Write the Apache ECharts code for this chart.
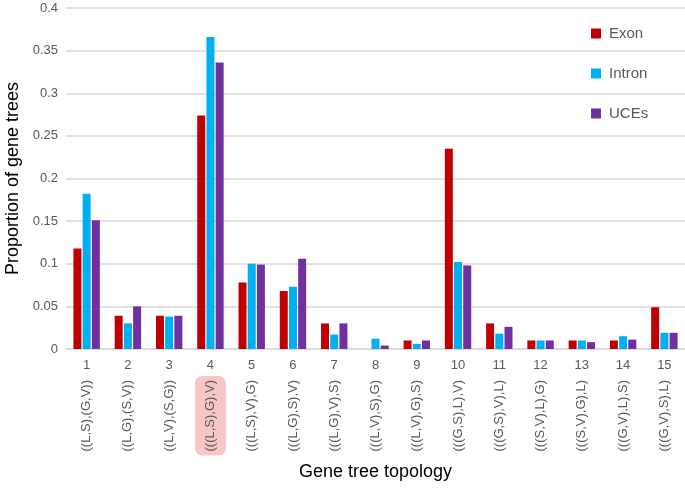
<!DOCTYPE html>
<html><head><meta charset="utf-8">
<script src="https://cdn.jsdelivr.net/npm/echarts@6/dist/echarts.min.js"></script>
<style>html,body{margin:0;padding:0;background:#fff}#c{width:685px;height:488px}</style>
</head><body><div id="c"></div>
<script>
const numbers = ['1','2','3','4','5','6','7','8','9','10','11','12','13','14','15'];
const topologies = ['((L,S),(G,V))','((L,G),(S,V))','((L,V),(S,G))','(((L,S),G),V)','(((L,S),V),G)','(((L,G),S),V)','(((L,G),V),S)','(((L,V),S),G)','(((L,V),G),S)','(((G,S),L),V)','(((G,S),V),L)','(((S,V),L),G)','(((S,V),G),L)','(((G,V),L),S)','(((G,V),S),L)'];
const exon   = [0.118,0.039,0.039,0.274,0.078,0.068,0.030,0,0.010,0.235,0.030,0.010,0.010,0.010,0.049];
const intron = [0.182,0.030,0.038,0.366,0.100,0.073,0.017,0.012,0.006,0.102,0.018,0.010,0.010,0.015,0.019];
const uces   = [0.151,0.050,0.039,0.336,0.099,0.106,0.030,0.004,0.010,0.098,0.026,0.010,0.008,0.011,0.019];
const highlightIndex = 3;

const chart = echarts.init(document.getElementById('c'));
const font = 'Liberation Sans, Arial, sans-serif';
chart.setOption({
  animation:false,
  textStyle:{fontFamily:font},
  grid:{left:66,right:0,top:8,bottom:139,containLabel:false,outerBoundsMode:'none'},
  legend:{orient:'vertical',left:586,top:21,itemWidth:10,itemHeight:10,itemGap:25,icon:'rect',
    textStyle:{fontSize:15,color:'#595959',fontFamily:font,padding:[0,0,0,3]},
    data:['Exon','Intron','UCEs']},
  xAxis:[
    {type:'category',data:numbers,position:'bottom',
     axisLine:{show:true,lineStyle:{color:'#D9D9D9',width:1.5}},axisTick:{show:false},
     axisLabel:{fontSize:13,color:'#595959',margin:10}},
    {type:'category',data:topologies,position:'bottom',offset:27,
     axisLine:{show:false},axisTick:{show:false},
     axisLabel:{rotate:90,fontSize:13,color:'#595959',margin:0,interval:0,
       formatter:(v,i)=> i===highlightIndex ? '{hl|'+v+'}' : '{n|'+v+'}',
       rich:{
         n:{padding:[9,4,9,4],fontSize:13,color:'#595959'},
         hl:{backgroundColor:'#F9C6C6',borderRadius:7,padding:[9,4,9,4],fontSize:13,color:'#595959'}}},
     name:'Gene tree topology',nameLocation:'middle',nameGap:86,
     nameTextStyle:{fontSize:18,color:'#000'}}
  ],
  yAxis:{type:'value',min:0,max:0.4,interval:0.05,
    axisLine:{show:false},axisTick:{show:false},
    axisLabel:{fontSize:13,color:'#595959',margin:8},
    splitLine:{lineStyle:{color:'#D9D9D9',width:1.5}},
    name:'Proportion of gene trees',nameLocation:'middle',nameGap:43,
    nameTextStyle:{fontSize:18,color:'#000'}},
  series:[
    {name:'Exon',type:'bar',data:exon,barWidth:8,barGap:'15%',itemStyle:{color:'#C00000'}},
    {name:'Intron',type:'bar',data:intron,barWidth:8,barGap:'15%',itemStyle:{color:'#00B0F0'}},
    {name:'UCEs',type:'bar',data:uces,barWidth:8,barGap:'15%',itemStyle:{color:'#7030A0'}}
  ]
});
</script></body></html>
